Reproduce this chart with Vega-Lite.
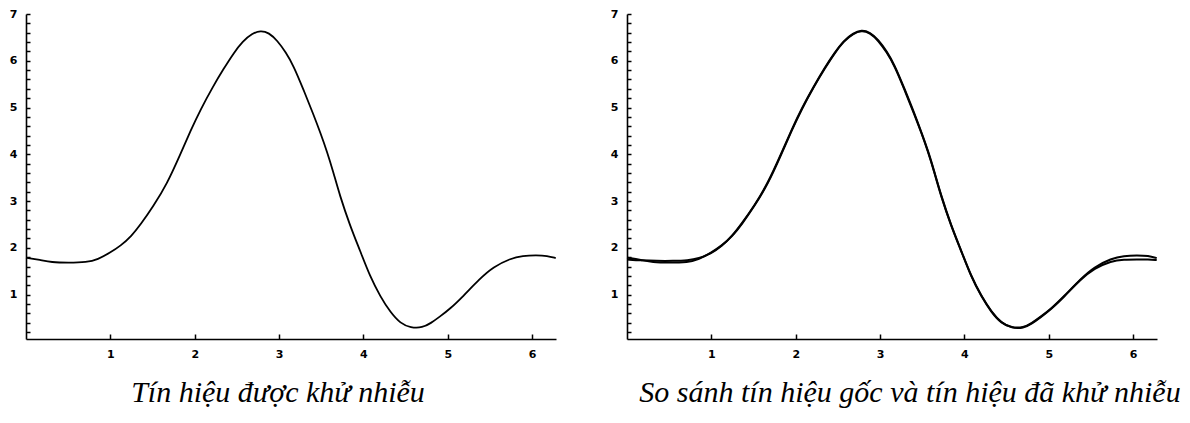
{
  "$schema": "https://vega.github.io/schema/vega-lite/v6.json",
  "padding": {"left": 9, "top": 8, "right": 5, "bottom": 5},
  "background": "white",
  "datasets": {
    "denoised": [
      {"x": 0.00, "y": 1.79}, {"x": 0.17, "y": 1.74}, {"x": 0.30, "y": 1.69}, {"x": 0.50, "y": 1.68},
      {"x": 0.72, "y": 1.69}, {"x": 0.85, "y": 1.75}, {"x": 1.00, "y": 1.90}, {"x": 1.12, "y": 2.04},
      {"x": 1.25, "y": 2.25}, {"x": 1.36, "y": 2.50}, {"x": 1.51, "y": 2.89}, {"x": 1.67, "y": 3.36},
      {"x": 1.83, "y": 4.00}, {"x": 1.95, "y": 4.50}, {"x": 2.07, "y": 4.96}, {"x": 2.22, "y": 5.46},
      {"x": 2.34, "y": 5.82}, {"x": 2.46, "y": 6.16}, {"x": 2.57, "y": 6.42}, {"x": 2.68, "y": 6.58},
      {"x": 2.78, "y": 6.65}, {"x": 2.88, "y": 6.60}, {"x": 2.98, "y": 6.43}, {"x": 3.08, "y": 6.18},
      {"x": 3.17, "y": 5.90}, {"x": 3.29, "y": 5.38}, {"x": 3.41, "y": 4.84}, {"x": 3.49, "y": 4.46},
      {"x": 3.57, "y": 4.05}, {"x": 3.64, "y": 3.64}, {"x": 3.72, "y": 3.12}, {"x": 3.84, "y": 2.48},
      {"x": 3.96, "y": 1.94}, {"x": 4.08, "y": 1.38}, {"x": 4.20, "y": 0.96}, {"x": 4.32, "y": 0.62},
      {"x": 4.44, "y": 0.38}, {"x": 4.56, "y": 0.29}, {"x": 4.70, "y": 0.29}, {"x": 4.80, "y": 0.39},
      {"x": 4.90, "y": 0.52}, {"x": 5.03, "y": 0.70}, {"x": 5.18, "y": 0.96}, {"x": 5.38, "y": 1.34},
      {"x": 5.54, "y": 1.59}, {"x": 5.74, "y": 1.77}, {"x": 5.89, "y": 1.83}, {"x": 6.05, "y": 1.84},
      {"x": 6.18, "y": 1.83}, {"x": 6.28, "y": 1.78}
    ],
    "original": [
      {"x": 0.00, "y": 1.75}, {"x": 0.17, "y": 1.73}, {"x": 0.35, "y": 1.72}, {"x": 0.55, "y": 1.72},
      {"x": 0.72, "y": 1.73}, {"x": 0.85, "y": 1.77}, {"x": 1.00, "y": 1.88}, {"x": 1.12, "y": 2.03},
      {"x": 1.25, "y": 2.26}, {"x": 1.36, "y": 2.52}, {"x": 1.51, "y": 2.90}, {"x": 1.67, "y": 3.38},
      {"x": 1.83, "y": 4.02}, {"x": 1.95, "y": 4.52}, {"x": 2.07, "y": 4.98}, {"x": 2.22, "y": 5.47},
      {"x": 2.34, "y": 5.84}, {"x": 2.46, "y": 6.17}, {"x": 2.57, "y": 6.43}, {"x": 2.68, "y": 6.59},
      {"x": 2.78, "y": 6.66}, {"x": 2.88, "y": 6.61}, {"x": 2.98, "y": 6.45}, {"x": 3.08, "y": 6.20},
      {"x": 3.17, "y": 5.92}, {"x": 3.29, "y": 5.40}, {"x": 3.41, "y": 4.86}, {"x": 3.49, "y": 4.47},
      {"x": 3.57, "y": 4.07}, {"x": 3.64, "y": 3.65}, {"x": 3.72, "y": 3.14}, {"x": 3.84, "y": 2.49},
      {"x": 3.96, "y": 1.95}, {"x": 4.08, "y": 1.39}, {"x": 4.20, "y": 0.97}, {"x": 4.32, "y": 0.63},
      {"x": 4.44, "y": 0.39}, {"x": 4.56, "y": 0.28}, {"x": 4.70, "y": 0.28}, {"x": 4.80, "y": 0.38},
      {"x": 4.90, "y": 0.51}, {"x": 5.03, "y": 0.69}, {"x": 5.18, "y": 0.95}, {"x": 5.38, "y": 1.33},
      {"x": 5.54, "y": 1.56}, {"x": 5.74, "y": 1.72}, {"x": 5.89, "y": 1.75}, {"x": 6.05, "y": 1.75},
      {"x": 6.18, "y": 1.75}, {"x": 6.28, "y": 1.74}
    ]
  },
  "config": {
    "view": {"stroke": null},
    "axis": {
      "grid": false,
      "domainColor": "black",
      "domainWidth": 1.6,
      "tickColor": "black",
      "tickWidth": 1.5,
      "labelColor": "black",
      "labelFont": "DejaVu Sans",
      "labelFontWeight": "bold",
      "labelFontSize": 11,
      "title": null
    },
    "title": {
      "orient": "bottom",
      "font": "Liberation Serif",
      "fontStyle": "italic",
      "fontWeight": "normal",
      "fontSize": 30,
      "color": "black",
      "offset": 19
    },
    "concat": {"spacing": 50}
  },
  "hconcat": [
    {
      "width": 530,
      "height": 325,
      "title": {"text": "Tín hiệu được khử nhiễu", "dx": -13},
      "data": {"name": "denoised"},
      "mark": {"type": "line", "color": "black", "strokeWidth": 1.8, "interpolate": "basis"},
      "encoding": {
        "x": {
          "field": "x", "type": "quantitative",
          "scale": {"domain": [0, 6.2832], "nice": false, "zero": false},
          "axis": {"values": [1, 2, 3, 4, 5, 6], "format": "d", "tickSize": -5, "labelPadding": 14}
        },
        "y": {
          "field": "y", "type": "quantitative",
          "scale": {"domain": [0.05, 7], "nice": false, "zero": false},
          "axis": {
            "values": [0.2, 0.4, 0.6, 0.8, 1, 1.2, 1.4, 1.6, 1.8, 2, 2.2, 2.4, 2.6, 2.8, 3, 3.2, 3.4, 3.6, 3.8, 4, 4.2, 4.4, 4.6, 4.8, 5, 5.2, 5.4, 5.6, 5.8, 6, 6.2, 6.4, 6.6, 6.8, 7],
            "labelExpr": "datum.value % 1 === 0 ? format(datum.value, 'd') : ''",
            "tickSize": -4,
            "labelPadding": 13
          }
        }
      }
    },
    {
      "width": 530,
      "height": 325,
      "title": {"text": "So sánh tín hiệu gốc và tín hiệu đã khử nhiễu", "dx": 18},
      "encoding": {
        "x": {
          "field": "x", "type": "quantitative",
          "scale": {"domain": [0, 6.2832], "nice": false, "zero": false},
          "axis": {"values": [1, 2, 3, 4, 5, 6], "format": "d", "tickSize": -5, "labelPadding": 14}
        },
        "y": {
          "field": "y", "type": "quantitative",
          "scale": {"domain": [0.05, 7], "nice": false, "zero": false},
          "axis": {
            "values": [0.2, 0.4, 0.6, 0.8, 1, 1.2, 1.4, 1.6, 1.8, 2, 2.2, 2.4, 2.6, 2.8, 3, 3.2, 3.4, 3.6, 3.8, 4, 4.2, 4.4, 4.6, 4.8, 5, 5.2, 5.4, 5.6, 5.8, 6, 6.2, 6.4, 6.6, 6.8, 7],
            "labelExpr": "datum.value % 1 === 0 ? format(datum.value, 'd') : ''",
            "tickSize": -4,
            "labelPadding": 13
          }
        }
      },
      "layer": [
        {
          "data": {"name": "original"},
          "mark": {"type": "line", "color": "black", "strokeWidth": 2, "interpolate": "basis"}
        },
        {
          "data": {"name": "denoised"},
          "mark": {"type": "line", "color": "black", "strokeWidth": 2, "interpolate": "basis"}
        }
      ]
    }
  ]
}
